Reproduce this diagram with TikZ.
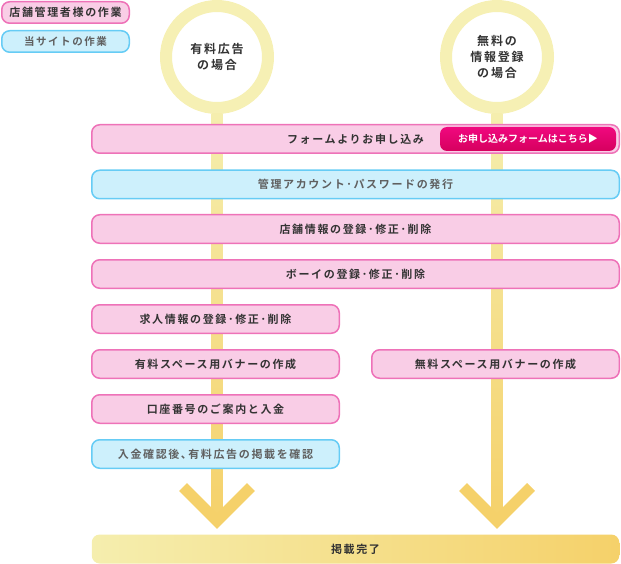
\documentclass[tikz,border=0pt]{standalone}
\usepackage{fontspec}
\newfontfamily\jpfont{Noto Sans CJK JP}[LetterSpace=15,BoldFont={Noto Sans CJK JP Bold}]
\newfontfamily\jptight{Noto Sans CJK JP}[BoldFont={Noto Sans CJK JP Bold}]
\definecolor{ownerfill}{HTML}{F9CDE6}
\definecolor{ownerline}{HTML}{EE72B8}
\definecolor{sitefill}{HTML}{CDF0FC}
\definecolor{siteline}{HTML}{66CCF5}
\definecolor{ringcol}{HTML}{F6F0B4}
\definecolor{flowtop}{HTML}{F5EEAE}
\definecolor{flowbot}{HTML}{F5D16A}
\definecolor{btntop}{HTML}{F0087F}
\definecolor{btnbot}{HTML}{D6005E}
\definecolor{txtdark}{HTML}{333333}
\definecolor{txtgray}{HTML}{606060}

\begin{document}
\begin{tikzpicture}[
    x=1pt, y=-1pt,
    task/.style={
      rounded corners=8pt,
      line width=1.5pt,
      minimum height=28.5pt,
      inner sep=0pt,
      font=\jpfont\fontsize{11}{13}\selectfont\bfseries
    },
    owner/.style={task, draw=ownerline, fill=ownerfill, text=txtdark},
    site/.style={task, draw=siteline, fill=sitefill, text=txtgray},
    wide/.style={minimum width=527.5pt},
    half/.style={minimum width=247.5pt},
    legend/.style={minimum width=127.5pt, minimum height=21.5pt},
    ring/.style={
      circle,
      draw=ringcol,
      line width=12pt,
      fill=white,
      minimum size=102pt,
      inner sep=0pt,
      align=center,
      text=txtdark,
      font=\jpfont\fontsize{12}{16}\selectfont\bfseries
    },
    stripe/.style={top color=flowtop, bottom color=flowbot},
    chevron/.style={draw=flowbot, line width=11pt, miter limit=4},
    button/.style={
      rounded corners=7pt,
      minimum width=176pt,
      minimum height=24pt,
      top color=btntop,
      bottom color=btnbot,
      text=white,
      font=\jptight\fontsize{10}{12}\selectfont\bfseries
    }
  ]
    \useasboundingbox (0,0) rectangle (621,564);

    % legend
    \node[owner, legend] (keyowner) at (65.5,12.5) {店舗管理者様の作業};
    \node[site, legend, font=\jpfont\fontsize{10.5}{12}\selectfont\bfseries] (keysite) at (65.5,41.5) {当サイトの作業};

    % start rings
    \node[ring] (paid) at (217,57) {有料広告\\の場合};
    \node[ring] (free) at (497,57) {無料の\\情報登録\\の場合};

    \coordinate (paidtip) at (217,521);
    \coordinate (freetip) at (497,521);

    % flow stripes and arrows
    \shade[stripe] ([xshift=-5.5pt]paid.south) rectangle ([xshift=5.5pt]paidtip);
    \shade[stripe] ([xshift=-5.5pt]free.south) rectangle ([xshift=5.5pt]freetip);
    \draw[chevron] ([shift={(-34,-34)}]paidtip) -- (paidtip) -- ([shift={(34,-34)}]paidtip);
    \draw[chevron] ([shift={(-34,-34)}]freetip) -- (freetip) -- ([shift={(34,-34)}]freetip);

    % steps
    \node[owner, wide] (apply) at (355.5,139) {フォームよりお申し込み};
    \node[button] (applybtn) at (528,139) {お申し込みフォームはこちら▶};
    \node[site, wide] (account) at (355.5,184.5) {管理アカウント･パスワードの発行};
    \node[owner, wide] (shop) at (355.5,229) {店舗情報の登録･修正･削除};
    \node[owner, wide] (boy) at (355.5,274) {ボーイの登録･修正･削除};
    \node[owner, half] (job) at (215.5,319) {求人情報の登録･修正･削除};
    \node[owner, half] (paidbanner) at (215.5,364) {有料スペース用バナーの作成};
    \node[owner, half] (freebanner) at (495.5,364) {無料スペース用バナーの作成};
    \node[owner, half] (bank) at (215.5,409) {口座番号のご案内と入金};
    \node[site, half] (confirm) at (215.5,454) {入金確認後､有料広告の掲載を確認};

    % finish
    \node[task, wide, minimum height=29pt, left color=flowtop, right color=flowbot, text=txtdark] (done) at (355.5,549) {掲載完了};
  \end{tikzpicture}
\end{document}
